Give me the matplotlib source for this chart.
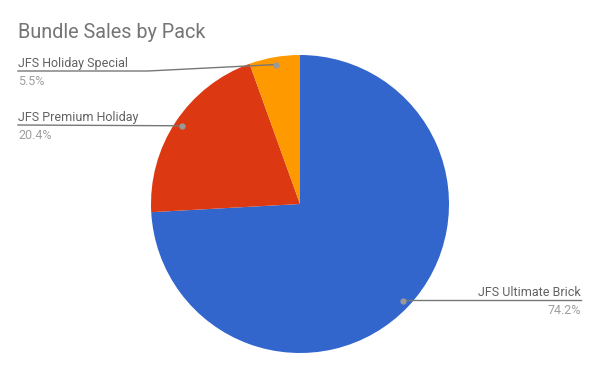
import numpy as np
import matplotlib.pyplot as plt
from matplotlib.patches import Wedge

plt.rcParams['font.family'] = ['Roboto', 'DejaVu Sans']

packs = ['JFS Ultimate Brick', 'JFS Premium Holiday', 'JFS Holiday Special']
shares = [74.2, 20.4, 5.5]
colors = ['#3366cc', '#dc3912', '#ff9900']

W, H = 600, 371
fig = plt.figure(figsize=(W / 100, H / 100), dpi=100)
ax = fig.add_axes([0, 0, 1, 1])
ax.set_xlim(0, W)
ax.set_ylim(H, 0)  # pixel coords, y down
ax.set_aspect('equal')
ax.axis('off')

cx, cy, r = 300, 204, 149

# wedges clockwise from 12 o'clock
total = sum(shares)
start = 0.0
mids = []
for val, col in zip(shares, colors):
    span = val / total * 360
    ax.add_patch(Wedge((cx, cy), r, start - 90, start + span - 90,
                       facecolor=col, linewidth=0))
    mids.append(np.deg2rad(start + span / 2 - 90))
    start += span

ax.text(18, 38, 'Bundle Sales by Pack', fontsize=14.3, color='#757575',
        ha='left', va='baseline')

line_c = '#777777'
name_c = '#616161'
pct_c = '#9e9e9e'

dots = [(cx + 0.95 * r * np.cos(m), cy + 0.95 * r * np.sin(m)) for m in mids]

# Ultimate Brick (right side)
d = dots[0]
ax.plot([d[0], 581], [300, 300], color=line_c, lw=1)
ax.plot(*d, 'o', ms=3.5, color='#999999')
ax.text(581, 296, packs[0], fontsize=9, color=name_c, ha='right', va='baseline')
ax.text(581, 314, f'{shares[0]}%', fontsize=9, color=pct_c, ha='right', va='baseline')

# Premium Holiday (left)
d = dots[1]
ax.plot([18, d[0]], [125, d[1]], color=line_c, lw=1)
ax.plot(*d, 'o', ms=3.5, color='#999999')
ax.text(18, 121, packs[1], fontsize=9, color=name_c, ha='left', va='baseline')
ax.text(18, 139, f'{shares[1]}%', fontsize=9, color=pct_c, ha='left', va='baseline')

# Holiday Special (left, bent line)
d = dots[2]
ax.plot([18, 148, d[0]], [71, 71, d[1]], color=line_c, lw=1)
ax.plot(*d, 'o', ms=3.5, color='#999999')
ax.text(18, 67, packs[2], fontsize=9, color=name_c, ha='left', va='baseline')
ax.text(18, 85, f'{shares[2]}%', fontsize=9, color=pct_c, ha='left', va='baseline')

fig.savefig('out.png', dpi=100, facecolor='white')
